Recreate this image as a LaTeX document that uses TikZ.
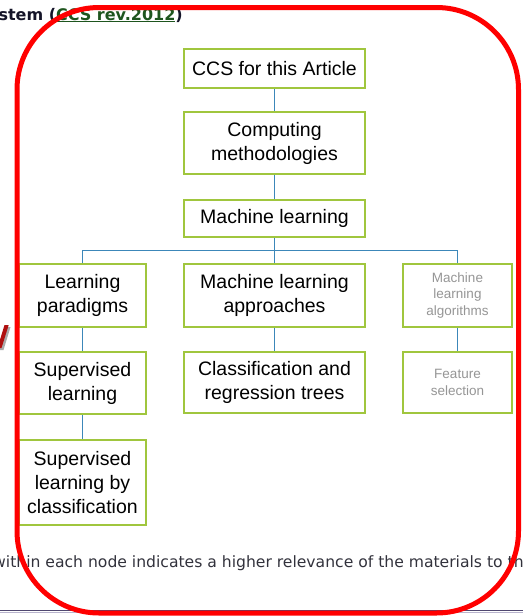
\documentclass[tikz,border=0pt]{standalone}
\usepackage{fontspec}
\setmainfont{Liberation Sans}
\newfontfamily\verd{DejaVu Sans}
\definecolor{boxgreen}{RGB}{160,198,62}
\definecolor{linkblue}{RGB}{60,135,185}
\definecolor{greytext}{RGB}{150,150,150}
\definecolor{linkgreen}{RGB}{30,85,30}
\definecolor{headdark}{RGB}{20,20,40}
\definecolor{notegrey}{RGB}{50,50,60}
\definecolor{ringred}{RGB}{255,0,0}
\definecolor{darkred}{RGB}{175,15,15}
\definecolor{shadowgrey}{RGB}{170,170,170}
\definecolor{rulepurple}{RGB}{80,72,112}
\definecolor{rulelight}{RGB}{185,180,205}
\tikzset{
  catbox/.style={draw=boxgreen, line width=2.5pt, fill=white, inner sep=0pt, align=center,
    font=\fontsize{19.5}{24}\selectfont, text=black},
  greybox/.style={catbox, font=\fontsize{13.5}{16.5}\selectfont, text=greytext},
  link/.style={draw=linkblue, line width=1.2pt},
}
\begin{document}
\begin{tikzpicture}[x=1pt,y=-1pt]
\useasboundingbox (0,0) rectangle (523,616);
\clip (0,0) rectangle (523,616);
% header and footnote
\node[anchor=base east, inner sep=0pt, font=\verd\bfseries\fontsize{16}{19}\selectfont, text=headdark] (hdr) at (183,20)
  {stem (\textcolor{linkgreen}{\underline{CCS rev.2012}})};
\node[anchor=base west, inner sep=0pt, font=\verd\fontsize{15.6}{19}\selectfont, text=notegrey] (note) at (-7,567)
  {within each node indicates a higher relevance of the materials to the};
\draw[rulepurple, line width=1.3pt] (0,610.8) -- (523,610.8);
\draw[rulelight, line width=1pt] (0,612.4) -- (523,612.4);
% fragment at left
\fill[shadowgrey] (6.5,327) -- (10.5,327) -- (3.5,350) -- (-0.5,350) -- cycle;
\fill[darkred] (4.5,325) -- (8.7,325) -- (1.5,348) -- (-2.5,348) -- cycle;
% nodes
\node[catbox, minimum width=181, minimum height=39] (ccs) at (274.5,68.5) {CCS for this Article};
\node[catbox, minimum width=181, minimum height=62] (comp) at (274.5,143) {Computing\\methodologies};
\node[catbox, minimum width=181, minimum height=37] (ml) at (274.5,218.5) {Machine learning};
\node[catbox, minimum width=127, minimum height=63] (lp) at (82.5,295.5) {Learning\\paradigms};
\node[catbox, minimum width=127, minimum height=62] (sl) at (82.5,383) {Supervised\\learning};
\node[catbox, minimum width=127, minimum height=85] (slc) at (82.5,482.5) {Supervised\\learning by\\classification};
\node[catbox, minimum width=181, minimum height=63] (mla) at (274.5,295.5) {Machine learning\\approaches};
\node[catbox, minimum width=181, minimum height=61] (cart) at (274.5,382.5) {Classification and\\regression trees};
\node[greybox, minimum width=109, minimum height=63] (alg) at (457.5,295.5) {Machine\\learning\\algorithms};
\node[greybox, minimum width=109, minimum height=61] (fs) at (457.5,382.5) {Feature\\selection};
\coordinate (bus) at (274.5,250.5);
% connectors
\draw[link] (ccs) -- (comp);
\draw[link] (comp) -- (ml);
\draw[link] (ml.south) -- (bus);
\draw[link] (lp.north) -- (lp.north |- bus) -- (alg.north |- bus) -- (alg.north);
\draw[link] (bus) -- (mla.north);
\draw[link] (lp) -- (sl);
\draw[link] (sl) -- (slc);
\draw[link] (mla) -- (cart);
\draw[link] (alg) -- (fs);
% red ring
\draw[ringred, line width=5pt, rounded corners=82pt] (17,7.5) rectangle (518.5,613);
\end{tikzpicture}
\end{document}
